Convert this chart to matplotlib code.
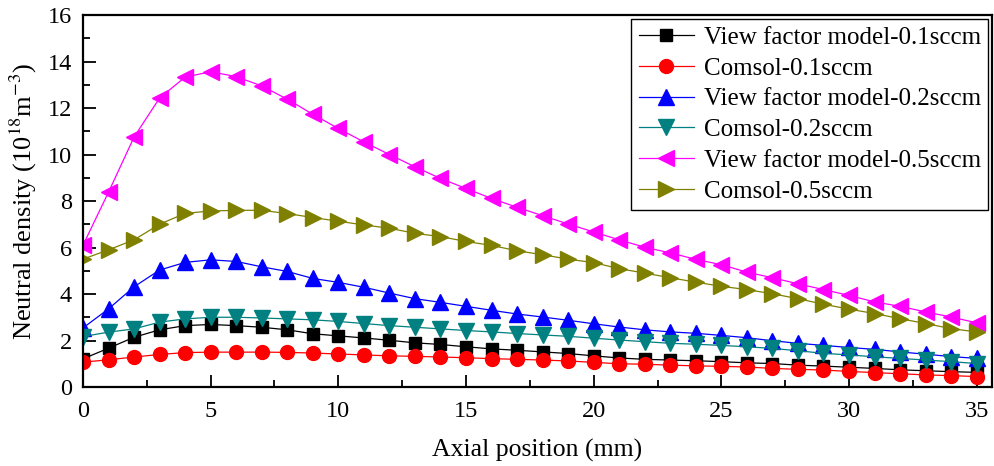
import numpy as np
import matplotlib
matplotlib.use("Agg")
import matplotlib.pyplot as plt
from matplotlib.ticker import MultipleLocator

plt.rcParams['font.family'] = ['Liberation Serif', 'DejaVu Serif']
plt.rcParams['mathtext.fontset'] = 'stix'

# axial position (mm)
x = np.arange(0, 36)

# neutral density (1e18 m^-3)
vf_01 = [1.21, 1.67, 2.14, 2.46, 2.64, 2.69, 2.64, 2.57, 2.46, 2.29, 2.20,
         2.11, 2.01, 1.90, 1.83, 1.73, 1.64, 1.58, 1.51, 1.44, 1.34,
         1.25, 1.19, 1.16, 1.13, 1.09, 1.04, 1.01, 0.94, 0.90, 0.85,
         0.80, 0.74, 0.70, 0.66, 0.63]
cs_01 = [1.07, 1.17, 1.29, 1.40, 1.48, 1.50, 1.50, 1.50, 1.49, 1.46, 1.42,
         1.38, 1.34, 1.32, 1.29, 1.26, 1.22, 1.19, 1.16, 1.12, 1.06,
         1.00, 0.98, 0.94, 0.91, 0.89, 0.86, 0.80, 0.76, 0.73, 0.67,
         0.62, 0.57, 0.52, 0.49, 0.45]
vf_02 = [2.54, 3.36, 4.31, 5.03, 5.36, 5.47, 5.40, 5.17, 4.97, 4.67, 4.50,
         4.29, 4.04, 3.80, 3.64, 3.47, 3.30, 3.14, 3.01, 2.87, 2.72,
         2.58, 2.46, 2.37, 2.31, 2.22, 2.12, 1.99, 1.88, 1.79, 1.70,
         1.62, 1.51, 1.41, 1.31, 1.23]
cs_02 = [2.17, 2.36, 2.50, 2.79, 2.93, 3.00, 3.00, 2.97, 2.93, 2.89, 2.82,
         2.73, 2.64, 2.57, 2.50, 2.43, 2.37, 2.30, 2.24, 2.18, 2.10,
         2.02, 1.95, 1.88, 1.84, 1.79, 1.73, 1.66, 1.56, 1.45, 1.38,
         1.30, 1.23, 1.16, 1.09, 1.01]
vf_05 = [6.10, 8.38, 10.75, 12.43, 13.33, 13.56, 13.35, 12.95, 12.38, 11.73, 11.12,
         10.54, 10.00, 9.47, 8.97, 8.54, 8.11, 7.73, 7.37, 7.01, 6.67,
         6.33, 6.01, 5.77, 5.49, 5.26, 4.94, 4.70, 4.44, 4.19, 3.94,
         3.66, 3.47, 3.23, 3.01, 2.76]
cs_05 = [5.50, 5.90, 6.33, 7.00, 7.47, 7.57, 7.60, 7.60, 7.46, 7.29, 7.13,
         6.97, 6.83, 6.61, 6.47, 6.26, 6.09, 5.86, 5.69, 5.50, 5.35,
         5.09, 4.90, 4.70, 4.51, 4.33, 4.19, 4.01, 3.80, 3.56, 3.35,
         3.16, 2.94, 2.73, 2.51, 2.37]

series = [
    (vf_01, 'View factor model-0.1sccm', 's', 'black', 9),
    (cs_01, 'Comsol-0.1sccm', 'o', 'red', 10),
    (vf_02, 'View factor model-0.2sccm', '^', 'blue', 11),
    (cs_02, 'Comsol-0.2sccm', 'v', 'teal', 11),
    (vf_05, 'View factor model-0.5sccm', '<', 'magenta', 11),
    (cs_05, 'Comsol-0.5sccm', '>', 'olive', 11),
]

fig = plt.figure(figsize=(9.95, 4.66), dpi=100)
ax = fig.add_axes([0.0834, 0.1695, 0.9136, 0.7983])

for y, lab, m, c, ms in series:
    ax.plot(x, y, marker=m, color=c, markersize=ms, linewidth=0.9, label=lab)

ax.set_xlim(0, 35.6)
ax.set_ylim(0, 16)
ax.xaxis.set_major_locator(MultipleLocator(5))
ax.xaxis.set_minor_locator(MultipleLocator(2.5))
ax.yaxis.set_major_locator(MultipleLocator(2))
ax.yaxis.set_minor_locator(MultipleLocator(1))
ax.tick_params(which='major', direction='in', length=9, width=1.3, labelsize=17.5)
ax.tick_params(axis='x', which='major', pad=10)
ax.tick_params(axis='y', which='major', pad=8)
ax.tick_params(which='minor', direction='in', length=5, width=1.3)
for s in ax.spines.values():
    s.set_linewidth(1.6)

ax.set_xlabel('Axial position (mm)', fontsize=18.5, labelpad=12)
ax.set_ylabel('Neutral density (10$^{18}$m$^{-3}$)', fontsize=19, labelpad=6)

leg = ax.legend(loc='upper right', bbox_to_anchor=(1.0, 1.0), borderaxespad=0.15,
                fontsize=18, fancybox=False, edgecolor='black', framealpha=1,
                handlelength=2.2, labelspacing=0.33, borderpad=0.3, handletextpad=0.4)
leg.get_frame().set_linewidth(1.0)

fig.savefig('out.png', dpi=100)
